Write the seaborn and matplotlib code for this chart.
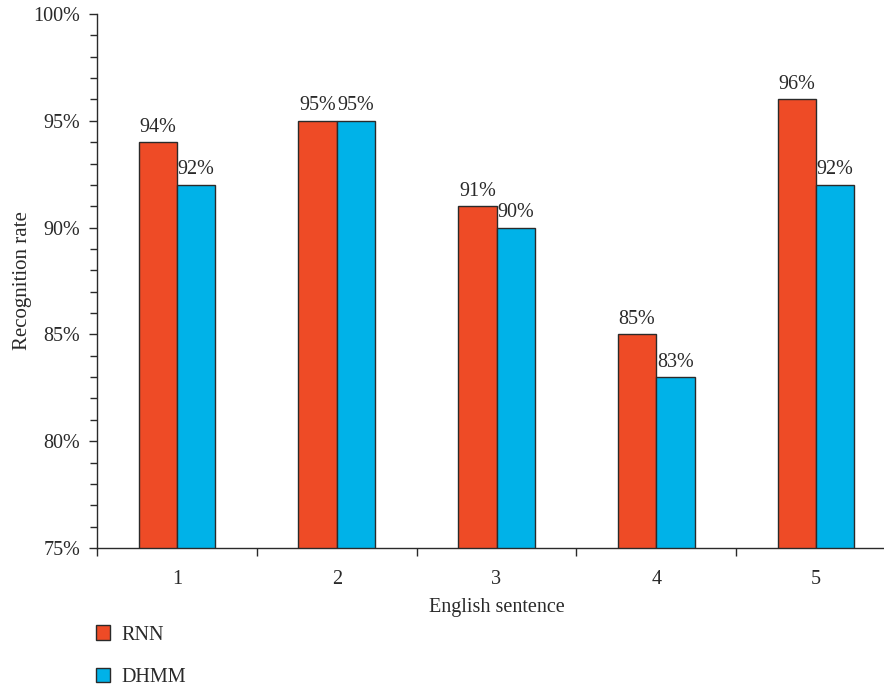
import matplotlib
matplotlib.use("Agg")
import matplotlib.pyplot as plt
import seaborn as sns
import pandas as pd
import numpy as np
from matplotlib.ticker import MultipleLocator, FixedLocator

sentences = ["1", "2", "3", "4", "5"]
rnn = [94, 95, 91, 85, 96]
dhmm = [92, 95, 90, 83, 92]
series = ["RNN", "DHMM"]
colors = ["#EE4B26", "#00B2E8"]

df = pd.DataFrame({
    "sentence": sentences * 2,
    "value": rnn + dhmm,
    "model": ["RNN"] * len(sentences) + ["DHMM"] * len(sentences),
})

sns.set_style("ticks")
plt.rcParams["font.family"] = ["Liberation Serif", "DejaVu Serif"]
FS = 14.5
TXT = "#2a2a2a"

fig = plt.figure(figsize=(8.84, 6.88), dpi=100)
W = 884.0
H = 688.0
ax = fig.add_axes([97 / W, 1 - 548 / H, 799 / W, 534 / H])

sns.barplot(data=df, x="sentence", y="value", hue="model", hue_order=series,
            palette=colors, width=0.48, edgecolor="#2a2a2a", linewidth=1.0,
            ax=ax, saturation=1)

for cont in ax.containers:
    ax.bar_label(cont, labels=[f"{v:.0f}%" for v in cont.datavalues],
                 padding=4, fontsize=FS, color=TXT)

ax.set_ylim(75, 100)
ax.set_xlim(-0.5, 4.5)
ax.yaxis.set_major_locator(MultipleLocator(5))
ax.yaxis.set_minor_locator(MultipleLocator(1))
ax.set_yticks(np.arange(75, 101, 5))
ax.set_yticklabels([f"{int(t)}%" for t in np.arange(75, 101, 5)])
ax.tick_params(axis="y", which="major", length=6, width=1, labelsize=FS,
               colors="#2a2a2a", labelcolor=TXT, pad=6)
ax.tick_params(axis="y", which="minor", length=5, width=1, colors="#2a2a2a")

ax.xaxis.set_minor_locator(FixedLocator(np.arange(-0.5, 5, 1.0)))
ax.tick_params(axis="x", which="major", length=0, labelsize=FS, pad=16, labelcolor=TXT)
ax.tick_params(axis="x", which="minor", length=6, width=1, colors="#2a2a2a")

for s in ["top", "right"]:
    ax.spines[s].set_visible(False)
for s in ["left", "bottom"]:
    ax.spines[s].set_color("#2a2a2a")
    ax.spines[s].set_linewidth(1.0)

ax.set_xlabel("English sentence", fontsize=FS, color=TXT, labelpad=6)
ax.set_ylabel("Recognition rate", fontsize=15, color=TXT, labelpad=1)

leg = ax.legend(loc="upper left", bbox_to_anchor=(-0.001, -0.145), frameon=False,
                fontsize=FS, handlelength=0.7, handleheight=0.7, handletextpad=0.55,
                labelspacing=1.15, borderaxespad=0, borderpad=0)
for t in leg.get_texts():
    t.set_color(TXT)

fig.savefig("out.png", dpi=100)
